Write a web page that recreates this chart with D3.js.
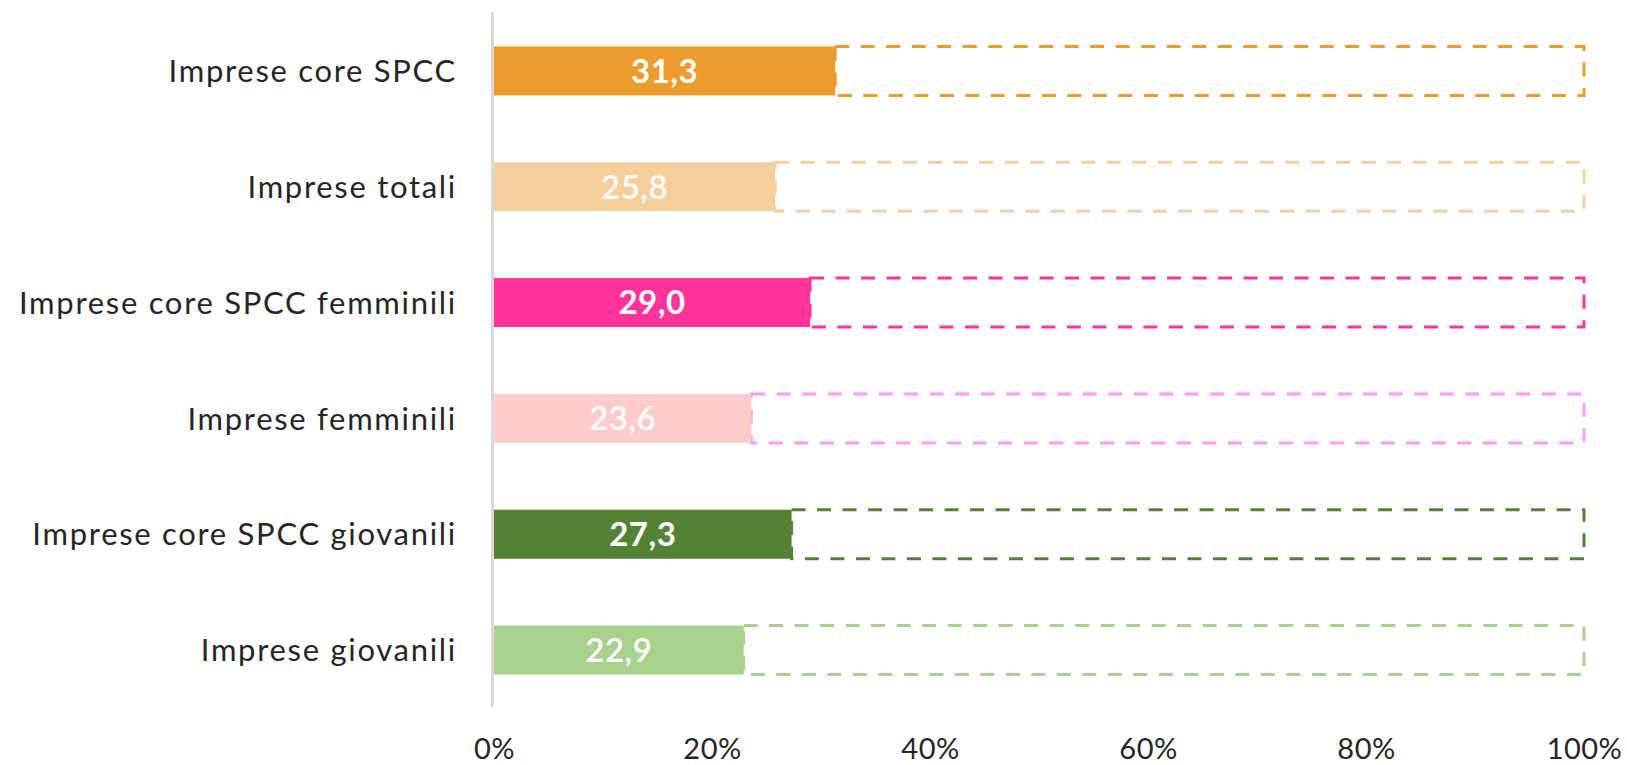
<!DOCTYPE html>
<html>
<head>
<meta charset="utf-8">
<script src="https://cdn.jsdelivr.net/npm/d3@7"></script>
<style>
  body { margin: 0; background: #fff; }
  svg { display: block; }
</style>
</head>
<body>
<svg width="1627" height="765"></svg>
<script>
const categories = [
  "Imprese core SPCC",
  "Imprese totali",
  "Imprese core SPCC femminili",
  "Imprese femminili",
  "Imprese core SPCC giovanili",
  "Imprese giovanili"
];
const values = [31.3, 25.8, 29.0, 23.6, 27.3, 22.9];
const tickValues = [0, 20, 40, 60, 80, 100];

// colours, one per row
const fills = ["#ec9b2d", "#f6cf9f", "#ff3399", "#ffcccc", "#548235", "#a9d18e"];
const outlines = ["#ec9b2d", "#f6cf9f", "#ff3399", "#ff99ff", "#548235", "#a9d18e"];
const boldLabel = [true, false, true, false, true, false];

const svg = d3.select("svg");

const x = d3.scaleLinear().domain([0, 100]).range([494, 1584]);
const y = d3.scaleBand()
  .domain(categories)
  .range([13, 708])
  .paddingInner(0.577)
  .paddingOuter(0.2885);

const rows = categories.map((c, i) => ({ cat: c, value: values[i], i: i }));

// dashed remainder up to 100%
svg.append("g").selectAll("rect")
  .data(rows)
  .join("rect")
  .attr("x", d => x(d.value))
  .attr("y", d => y(d.cat))
  .attr("width", d => x(100) - x(d.value))
  .attr("height", y.bandwidth())
  .attr("fill", "none")
  .attr("stroke", d => outlines[d.i])
  .attr("stroke-width", 3)
  .attr("stroke-dasharray", "14,11.5");

// filled bars
svg.append("g").selectAll("rect")
  .data(rows)
  .join("rect")
  .attr("x", x(0))
  .attr("y", d => y(d.cat))
  .attr("width", d => x(d.value) - x(0))
  .attr("height", y.bandwidth())
  .attr("fill", d => fills[d.i]);

// value labels
svg.append("g").selectAll("text")
  .data(rows)
  .join("text")
  .attr("x", d => (x(0) + x(d.value)) / 2)
  .attr("y", d => y(d.cat) + y.bandwidth() / 2)
  .attr("dy", "0.36em")
  .attr("text-anchor", "middle")
  .attr("fill", "#fff")
  .style("font-family", "Lato, 'Open Sans', sans-serif")
  .style("font-size", "33px")
  .style("letter-spacing", "0.5px")
  .style("font-weight", d => boldLabel[d.i] ? 700 : 600)
  .text(d => d3.format(".1f")(d.value).replace(".", ","));

// vertical axis line
svg.append("line")
  .attr("x1", 492.5).attr("x2", 492.5)
  .attr("y1", 12).attr("y2", 707)
  .attr("stroke", "#d9d9d9")
  .attr("stroke-width", 3);

// category labels
svg.append("g").selectAll("text")
  .data(categories)
  .join("text")
  .attr("x", 457)
  .attr("y", d => y(d) + y.bandwidth() / 2)
  .attr("dy", "0.36em")
  .attr("text-anchor", "end")
  .attr("fill", "#262626")
  .style("font-family", "Lato, 'Open Sans', sans-serif")
  .style("font-size", "31px")
  .style("letter-spacing", "1.7px")
  .text(d => d);

// x axis labels
const xAxis = d3.axisBottom(x)
  .tickValues(tickValues)
  .tickSize(0)
  .tickPadding(0)
  .tickFormat(d => d + "%");

const gx = svg.append("g")
  .attr("transform", "translate(0,759)")
  .call(xAxis);
gx.select(".domain").remove();
gx.selectAll("text")
  .attr("dy", "0")
  .attr("fill", "#262626")
  .style("font-family", "Lato, 'Open Sans', sans-serif")
  .style("font-size", "29px")
  .style("letter-spacing", "0.5px");
</script>
</body>
</html>
